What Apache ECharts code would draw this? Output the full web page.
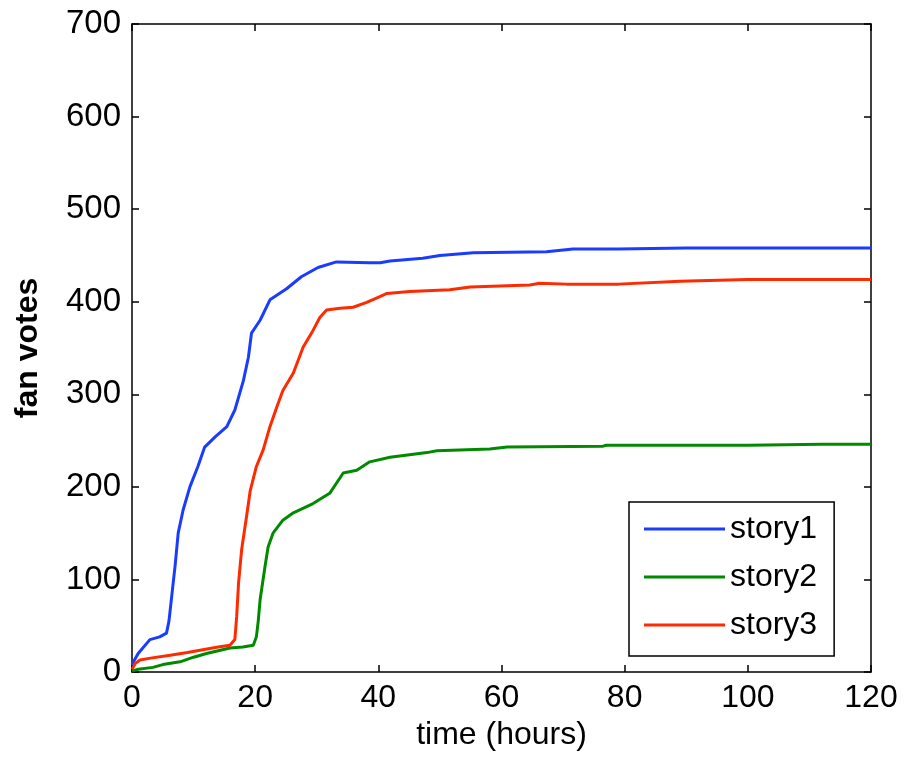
<!DOCTYPE html>
<html>
<head>
<meta charset="utf-8">
<script src="https://cdn.jsdelivr.net/npm/echarts@6/dist/echarts.min.js"></script>
<style>
  html, body { margin: 0; padding: 0; background: #fff; }
  #chart { width: 907px; height: 763px; }
</style>
</head>
<body>
<div id="chart"></div>
<script>
// Cumulative fan votes per story over time (hours)
const story1Hours = [0, 1, 2.9, 4.5, 5.6, 6.0, 6.5, 7.0, 7.5, 8.3, 9.4, 10.7, 11.8, 13.5, 15.4, 16.7, 18.1, 18.9, 19.4, 20.8, 22.4, 25.1, 27.5, 30.2, 33.2, 38.6, 40.3, 41.9, 47.2, 50, 55.4, 67.3, 71.6, 79, 90, 100, 110, 120];
const story1Votes = [8, 20, 35, 38, 42, 55, 85, 115, 150, 175, 200, 222, 243, 254, 265, 283, 315, 340, 366, 380, 402, 414, 427, 437, 443, 442, 442, 444, 447, 450, 453, 454, 457, 457, 458, 458, 458, 458];

const story2Hours = [0, 1, 3.4, 5, 7.8, 10, 12.1, 14, 15.9, 18, 19.7, 20.2, 20.5, 20.8, 21.6, 22.1, 22.9, 24.5, 26.2, 29.4, 32.1, 34.3, 36.5, 38.6, 41.9, 47.9, 49.5, 58.1, 60.9, 76.5, 77, 100, 112, 120];
const story2Votes = [1, 3, 5, 8, 11, 16, 20, 23, 26, 27, 29, 38, 55, 78, 114, 135, 150, 164, 172, 182, 193, 215, 218, 227, 232, 237, 239, 241, 243, 244, 245, 245, 246, 246];

const story3Hours = [0, 0.5, 1.3, 3, 6.2, 9, 11.5, 14, 15.9, 16.7, 17.0, 17.3, 17.8, 18.6, 19.2, 20.2, 21.3, 22.4, 23.5, 24.5, 26.2, 27.8, 29.4, 30.5, 31.6, 33.8, 35.9, 38, 39.7, 41.4, 45.1, 51.6, 54.9, 64.6, 66.2, 70.6, 79, 89, 100, 110, 120];
const story3Votes = [3, 9, 13, 15, 18, 21, 24, 27, 29, 35, 60, 96, 132, 168, 196, 222, 240, 265, 286, 304, 323, 351, 369, 383, 391, 393, 394, 399, 404, 409, 411, 413, 416, 418, 420, 419, 419, 422, 424, 424, 424];

const seriesNames = ['story1', 'story2', 'story3'];
const seriesColors = ['#1a3cff', '#008a00', '#ff2a00'];

const pairs = (xs, ys) => xs.map((x, i) => [x, ys[i]]);

const FONT = 'Liberation Sans, Arial, sans-serif';
const axisLine = () => ({ show: true, onZero: false, lineStyle: { color: '#000', width: 1.5 } });
const axisTick = () => ({ show: true, inside: true, length: 7, lineStyle: { color: '#000', width: 1.5 } });

const chart = echarts.init(document.getElementById('chart'), null, { renderer: 'canvas' });

chart.setOption({
  animation: false,
  backgroundColor: '#fff',
  grid: { left: 132, right: 36, top: 24, bottom: 91, containLabel: false },
  xAxis: [
    {
      type: 'value', min: 0, max: 120, interval: 20, position: 'bottom',
      name: 'time (hours)', nameLocation: 'middle', nameGap: 46,
      nameTextStyle: { fontFamily: FONT, fontSize: 32, color: '#000' },
      axisLine: axisLine(), axisTick: axisTick(),
      axisLabel: { fontFamily: FONT, fontSize: 32, color: '#000', margin: 10 },
      splitLine: { show: false }
    },
    {
      type: 'value', min: 0, max: 120, interval: 20, position: 'top',
      axisLine: axisLine(), axisTick: axisTick(), axisLabel: { show: false }, splitLine: { show: false }
    }
  ],
  yAxis: [
    {
      type: 'value', min: 0, max: 700, interval: 100, position: 'left',
      name: 'fan votes', nameLocation: 'middle', nameGap: 88,
      nameTextStyle: { fontFamily: FONT, fontSize: 32, fontWeight: 'bold', color: '#000' },
      axisLine: axisLine(), axisTick: axisTick(),
      axisLabel: { fontFamily: FONT, fontSize: 33, color: '#000', margin: 11 },
      splitLine: { show: false }
    },
    {
      type: 'value', min: 0, max: 700, interval: 100, position: 'right',
      axisLine: axisLine(), axisTick: axisTick(), axisLabel: { show: false }, splitLine: { show: false }
    }
  ],
  legend: {
    orient: 'vertical',
    left: 629, top: 502,
    padding: [9, 17, 13, 15],
    itemGap: 12,
    itemWidth: 81, itemHeight: 3,
    icon: 'rect',
    borderColor: '#000', borderWidth: 1.5,
    backgroundColor: '#fff',
    textStyle: { fontFamily: FONT, fontSize: 32, lineHeight: 36, color: '#000' },
    data: seriesNames
  },
  series: [
    { name: seriesNames[0], type: 'line', data: pairs(story1Hours, story1Votes) },
    { name: seriesNames[1], type: 'line', data: pairs(story2Hours, story2Votes) },
    { name: seriesNames[2], type: 'line', data: pairs(story3Hours, story3Votes) }
  ].map((s, i) => Object.assign(s, {
    symbol: 'none', smooth: false, z: 3,
    color: seriesColors[i],
    lineStyle: { color: seriesColors[i], width: 3 }
  }))
});
</script>
</body>
</html>
